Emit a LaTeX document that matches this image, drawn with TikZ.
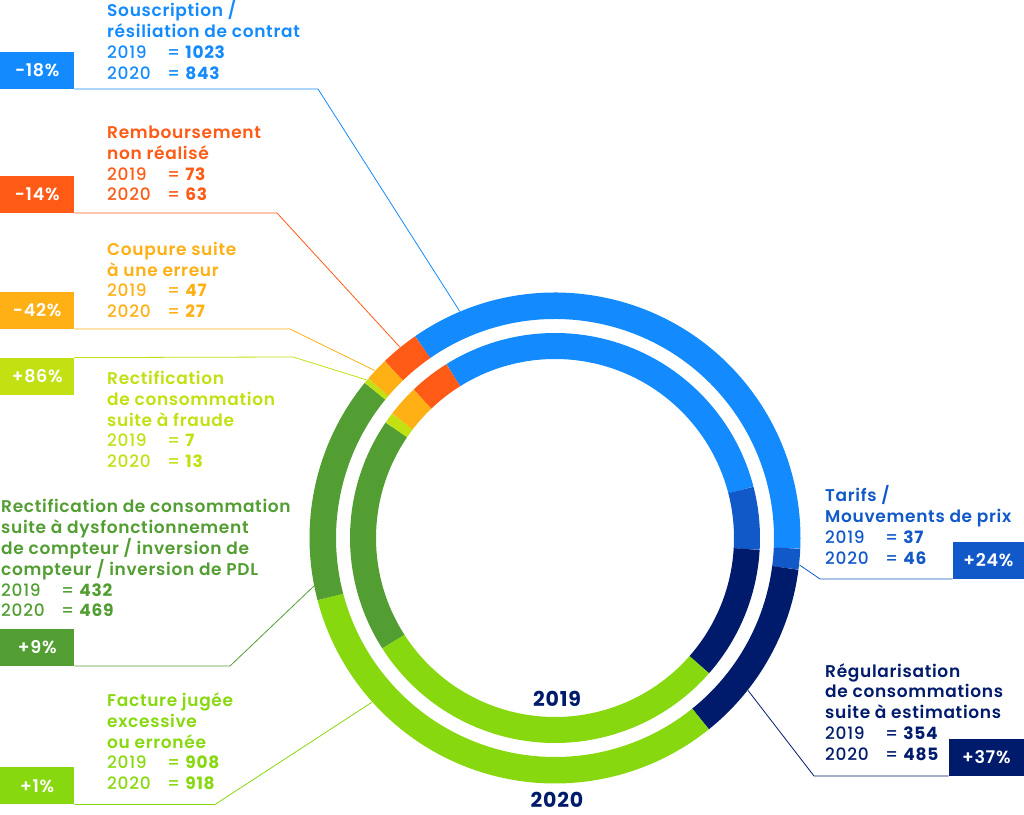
\documentclass[tikz,border=0pt]{standalone}
\usepackage{fontspec}
\setmainfont{Poppins}[UprightFont=* Medium, BoldFont=* SemiBold, LetterSpace=4]
\newfontfamily\numfont{Poppins}[UprightFont=* Bold, LetterSpace=4]
\usetikzlibrary{calc}
\definecolor{souscr}{HTML}{138BFF}
\definecolor{rembours}{HTML}{FF5A16}
\definecolor{coupure}{HTML}{FFB014}
\definecolor{fraude}{HTML}{C2E012}
\definecolor{compteur}{HTML}{529E32}
\definecolor{facture}{HTML}{88D80F}
\definecolor{regul}{HTML}{001B6B}
\definecolor{tarifs}{HTML}{1158C8}
\newcommand{\yr}[2]{\makebox[60pt][l]{#1}= {\numfont #2}}
\begin{document}
\begin{tikzpicture}[x=1pt,y=1pt,
    lbl/.style = {anchor=north west,
                  align=left,
                  inner sep=0pt,
                  font=\fontsize{17}{20.8}\selectfont},
    pct/.style = {minimum width=74pt,
                  minimum height=37pt,
                  inner sep=0pt,
                  text=white,
                  font=\fontsize{17.5}{20.8}\selectfont\bfseries},
    lead/.style = {line width=0.8pt}]
    \useasboundingbox (0,0) rectangle (1024,814);
    \coordinate (c) at (555,276);
    % outer ring 2020
    \foreach \col/\a/\b in {souscr/124.75/-2.5, tarifs/-2.5/-7.4, regul/-7.4/-51.2,
                            facture/-51.2/-165.3, compteur/-165.3/-219.2, fraude/-219.2/-220.5,
                            coupure/-220.5/-226.1, rembours/-226.1/-235.25}
        \draw[\col, line width=26.5pt] (c) ++(\a:232.25pt) arc[start angle=\a, end angle=\b, radius=232.25pt];
    % inner ring 2019
    \foreach \col/\a/\b in {souscr/122/14.5, tarifs/14.5/-3.3, regul/-3.3/-41.3,
                            facture/-41.3/-147.4, compteur/-147.4/-214.3, fraude/-214.3/-217.4,
                            coupure/-217.4/-226.4, rembours/-226.4/-238}
        \draw[\col, line width=26pt] (c) ++(\a:192pt) arc[start angle=\a, end angle=\b, radius=192pt];
    \node[font=\fontsize{20.5}{24}\selectfont\numfont, text=regul, inner sep=0pt] (y19) at (557,115) {2019};
    \node[font=\fontsize{20.5}{24}\selectfont\numfont, text=regul, inner sep=0pt] (y20) at (557,14) {2020};
    % labels
    \node[lbl, text=souscr] (t1) at (107,813.5) {\strut\textbf{Souscription /}\\\textbf{résiliation de contrat}\\\yr{2019}{1023}\\\yr{2020}{843}};
    \node[lbl, text=rembours] (t2) at (107,690.2) {\strut\textbf{Remboursement}\\\textbf{non réalisé}\\\yr{2019}{73}\\\yr{2020}{63}};
    \node[lbl, text=coupure] (t3) at (107,573.5) {\strut\textbf{Coupure suite}\\\textbf{à une erreur}\\\yr{2019}{47}\\\yr{2020}{27}};
    \node[lbl, text=fraude] (t4) at (107,444.3) {\strut\textbf{Rectification}\\\textbf{de consommation}\\\textbf{suite à fraude}\\\yr{2019}{7}\\\yr{2020}{13}};
    \node[lbl, text=compteur] (t5) at (1,315.8) {\strut\textbf{Rectification de consommation}\\\textbf{suite à dysfonctionnement}\\\textbf{de compteur / inversion de}\\\textbf{compteur / inversion de PDL}\\\yr{2019}{432}\\\yr{2020}{469}};
    \node[lbl, text=facture] (t6) at (107,122.3) {\strut\textbf{Facture jugée}\\\textbf{excessive}\\\textbf{ou erronée}\\\yr{2019}{908}\\\yr{2020}{918}};
    \node[lbl, text=tarifs] (t7) at (825,328.5) {\strut\textbf{Tarifs /}\\\textbf{Mouvements de prix}\\\yr{2019}{37}\\\yr{2020}{46}};
    \node[lbl, text=regul] (t8) at (825,151.7) {\strut\textbf{Régularisation}\\\textbf{de consommations}\\\textbf{suite à estimations}\\\yr{2019}{354}\\\yr{2020}{485}};
    % percent boxes
    \node[pct, fill=souscr, anchor=south west] (b1) at (0,725) {-18\%};
    \node[pct, fill=rembours, anchor=south west] (b2) at (0,601) {-14\%};
    \node[pct, fill=coupure, anchor=south west] (b3) at (0,485) {-42\%};
    \node[pct, fill=fraude, anchor=south west] (b4) at (0,419) {+86\%};
    \node[pct, fill=compteur, anchor=south west] (b5) at (0,148) {+9\%};
    \node[pct, fill=facture, anchor=south west] (b6) at (0,9.5) {+1\%};
    \node[pct, fill=tarifs, anchor=south east, minimum width=71pt] (b7) at (1024,235) {+24\%};
    \node[pct, fill=regul, anchor=south east, minimum width=75pt] (b8) at (1024,38) {+37\%};
    % leaders
    \coordinate (e1) at (318,725);   \coordinate (r1) at ($(c)+(112.8:246pt)$);
    \coordinate (e2) at (277,601);   \coordinate (r2) at ($(c)+(129.1:246pt)$);
    \coordinate (e3) at (290,485);   \coordinate (r3) at ($(c)+(137.1:246pt)$);
    \coordinate (e4) at (293,457);   \coordinate (r4) at ($(c)+(140:246pt)$);
    \coordinate (e5) at (230,148);   \coordinate (r5) at ($(c)+(191.3:246pt)$);
    \coordinate (e6) at (215,9.5);   \coordinate (r6) at ($(c)+(221.9:246pt)$);
    \coordinate (e7) at (820,235);   \coordinate (r7) at ($(c)+(-6.3:246pt)$);
    \coordinate (e8) at (814,38);    \coordinate (r8) at ($(c)+(-38.3:246pt)$);
    \draw[lead, souscr] (b1.south east) -- (e1) -- (r1);
    \draw[lead, rembours] (b2.south east) -- (e2) -- (r2);
    \draw[lead, coupure] (b3.south east) -- (e3) -- (r3);
    \draw[lead, fraude] (b4.north east) -- (e4) -- (r4);
    \draw[lead, compteur] (b5.south east) -- (e5) -- (r5);
    \draw[lead, facture] (b6.south east) -- (e6) -- (r6);
    \draw[lead, tarifs] (b7.south west) -- (e7) -- (r7);
    \draw[lead, regul] (b8.south west) -- (e8) -- (r8);
\end{tikzpicture}
\end{document}
